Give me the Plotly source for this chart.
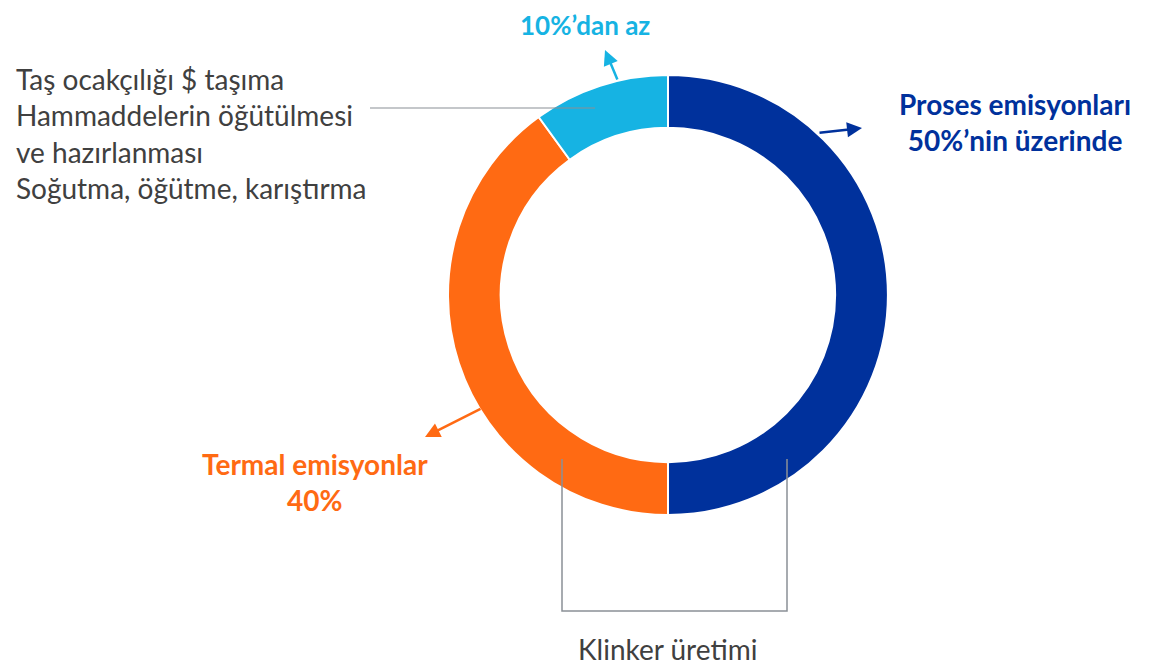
import plotly.graph_objects as go

W, H = 1157, 668
OFF = 8  # page body margin in the browser

# Data
categories = ["Proses emisyonları", "Termal emisyonlar", "Taş ocakçılığı, hazırlama, soğutma"]
values = [50, 40, 10]
colors = ["#00319C", "#FF6A13", "#16B3E3"]

label_proses = "Proses emisyonları<br>50%’nin üzerinde"
label_termal = "Termal emisyonlar<br>40%"
label_small = "10%’dan az"
label_left = "Taş ocakçılığı $ taşıma<br>Hammaddelerin öğütülmesi<br>ve hazırlanması<br>Soğutma, öğütme, karıştırma"
label_klinker = "Klinker üretimi"

def px(x):
    return (x - OFF) / W

def py(y):
    return 1 - (y - OFF) / H

cx, cy, R = 668, 295, 220

fig = go.Figure()
fig.add_trace(go.Pie(
    labels=categories,
    values=values,
    sort=False,
    direction="clockwise",
    rotation=0,
    hole=0.76,
    marker=dict(colors=colors, line=dict(color="white", width=2)),
    textinfo="none",
    hoverinfo="label+percent",
    showlegend=False,
    domain=dict(x=[px(cx - R), px(cx + R)], y=[py(cy + R), py(cy - R)]),
))

font_family = "Lato, 'Open Sans', sans-serif"
FS = 28
annotations = []

# Text labels
annotations.append(dict(x=px(585), y=py(OFF), xref="paper", yref="paper", text="<b>" + label_small + "</b>",
                        showarrow=False, xanchor="center", yanchor="top", borderpad=0,
                        font=dict(family=font_family, size=FS - 2, color=colors[2])))
annotations.append(dict(x=px(1015), y=py(122), xref="paper", yref="paper", text="<b>" + label_proses + "</b>",
                        showarrow=False, xanchor="center", yanchor="middle", align="center",
                        font=dict(family=font_family, size=FS, color=colors[0])))
annotations.append(dict(x=px(315), y=py(482), xref="paper", yref="paper", text="<b>" + label_termal + "</b>",
                        showarrow=False, xanchor="center", yanchor="middle", align="center",
                        font=dict(family=font_family, size=FS, color=colors[1])))
annotations.append(dict(x=px(14), y=py(134), xref="paper", yref="paper", text=label_left,
                        showarrow=False, xanchor="left", yanchor="middle", align="left",
                        font=dict(family=font_family, size=FS, color="#404040")))
annotations.append(dict(x=px(667), y=py(649), xref="paper", yref="paper", text=label_klinker,
                        showarrow=False, xanchor="center", yanchor="middle",
                        font=dict(family=font_family, size=FS, color="#404040")))

# Arrows (tip position, tail position in pixels)
arrows = [
    ((605, 50), (618, 81), colors[2]),
    ((862, 128), (818, 133), colors[0]),
    ((425, 437), (482, 408), colors[1]),
]
for (tx, ty), (bx, by), col in arrows:
    annotations.append(dict(x=px(tx), y=py(ty), xref="paper", yref="paper", text="",
                            showarrow=True, ax=bx - tx, ay=by - ty, axref="pixel", ayref="pixel",
                            arrowhead=2, arrowsize=1.2, arrowwidth=2.5, arrowcolor=col))

line_col = "#8A9096"
shapes = [
    dict(type="line", xref="paper", yref="paper", x0=px(370), y0=py(108), x1=px(595), y1=py(108),
         line=dict(color=line_col, width=1.2)),
    dict(type="path", xref="paper", yref="paper",
         path=f"M {px(562)},{py(459)} L {px(562)},{py(611)} L {px(787)},{py(611)} L {px(787)},{py(459)}",
         line=dict(color=line_col, width=1.5)),
]

fig.update_layout(
    width=W, height=H,
    margin=dict(l=0, r=0, t=0, b=0),
    paper_bgcolor="white", plot_bgcolor="white",
    annotations=annotations, shapes=shapes,
)

fig.write_html("out.html")
